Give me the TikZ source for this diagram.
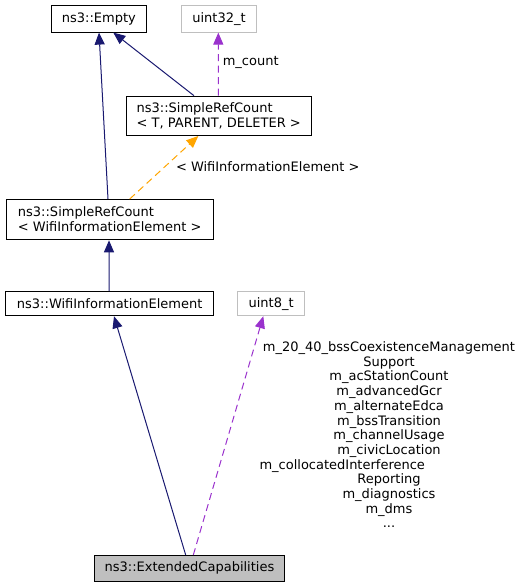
\documentclass[tikz,border=0pt]{standalone}
\usepackage{fontspec}
\setmainfont{DejaVu Sans}
\usetikzlibrary{arrows.meta}
\definecolor{navyedge}{HTML}{191970}
\definecolor{purpleedge}{HTML}{9A32CD}
\definecolor{orangeedge}{HTML}{FFA500}
\definecolor{graybox}{HTML}{BFBFBF}
\tikzset{
  box/.style={draw=black, line width=1bp, anchor=north west, inner ysep=0pt, inner xsep=0pt},
  extbox/.style={box, draw=graybox},
  tipstyle/.style={-{Triangle[length=12bp,width=10bp]}},
  inh/.style={draw=navyedge, line width=1bp, tipstyle},
  usage/.style={draw=purpleedge, line width=1bp, dash pattern=on 7bp off 4.5bp, tipstyle},
  tmpl/.style={draw=orangeedge, line width=1bp, dash pattern=on 7bp off 4.5bp, tipstyle},
  lbl/.style={inner sep=0pt, font=\fontsize{13bp}{14.7bp}\selectfont},
}
\begin{document}
\begin{tikzpicture}[x=1bp,y=-1bp, font=\fontsize{13bp}{15bp}\selectfont]
\useasboundingbox (0,0) rectangle (523,587);
% boxes
\node[box, minimum width=95.3bp, minimum height=26.3bp] (empty) at (50.7,5.3) {ns3::Empty};
\node[extbox, minimum width=75bp, minimum height=26.3bp] (u32) at (181,5.3) {uint32\_t};
\node[box, minimum width=185.5bp, minimum height=39.3bp, align=left] (srct) at (125.5,95.7) {ns3::SimpleRefCount\\\textless{} T, PARENT, DELETER \textgreater};
\node[box, minimum width=207bp, minimum height=40.3bp, align=left] (srcwie) at (5.7,199) {ns3::SimpleRefCount\\\textless{} WifiInformationElement \textgreater};
\node[box, minimum width=208bp, minimum height=24.2bp] (wie) at (5.2,291) {ns3::WifiInformationElement};
\node[extbox, minimum width=66.7bp, minimum height=24.2bp] (u8) at (237.3,291) {uint8\_t};
\node[box, fill=graybox, minimum width=190.6bp, minimum height=25.7bp] (ext) at (93.7,555) {ns3::ExtendedCapabilities};
% edges
\draw[inh] ([xshift=102.3bp]srcwie.north west) -- ([xshift=48.3bp]empty.south west);
\draw[inh] ([xshift=68.5bp]srct.north west) -- ([xshift=62.6bp]empty.south west);
\draw[usage] ([xshift=92.8bp]srct.north west) -- node[lbl, anchor=west, xshift=4bp, yshift=1.5bp] (lcount) {m\_count} ([xshift=37.3bp]u32.south west);
\draw[tmpl] ([xshift=124bp]srcwie.north west) -- node[lbl, anchor=west, xshift=11.5bp, yshift=1.3bp] (ltmpl) {\textless{} WifiInformationElement \textgreater} ([xshift=72.8bp]srct.south west);
\draw[inh] ([xshift=103.8bp]wie.north west) -- ([xshift=103.3bp]srcwie.south west);
\draw[inh] ([xshift=92bp]ext.north west) -- ([xshift=108.8bp]wie.south west);
\draw[usage] ([xshift=99.6bp]ext.north west) -- ([xshift=26bp]u8.south west);
\node[lbl, align=center, anchor=north] (lmembers) at (389,341.5) {m\_20\_40\_bssCoexistenceManagement\\Support\\m\_acStationCount\\m\_advancedGcr\\m\_alternateEdca\\m\_bssTransition\\m\_channelUsage\\m\_civicLocation\\\makebox[259bp][l]{m\_collocatedInterference}\\Reporting\\m\_diagnostics\\m\_dms\\...};
\end{tikzpicture}
\end{document}
